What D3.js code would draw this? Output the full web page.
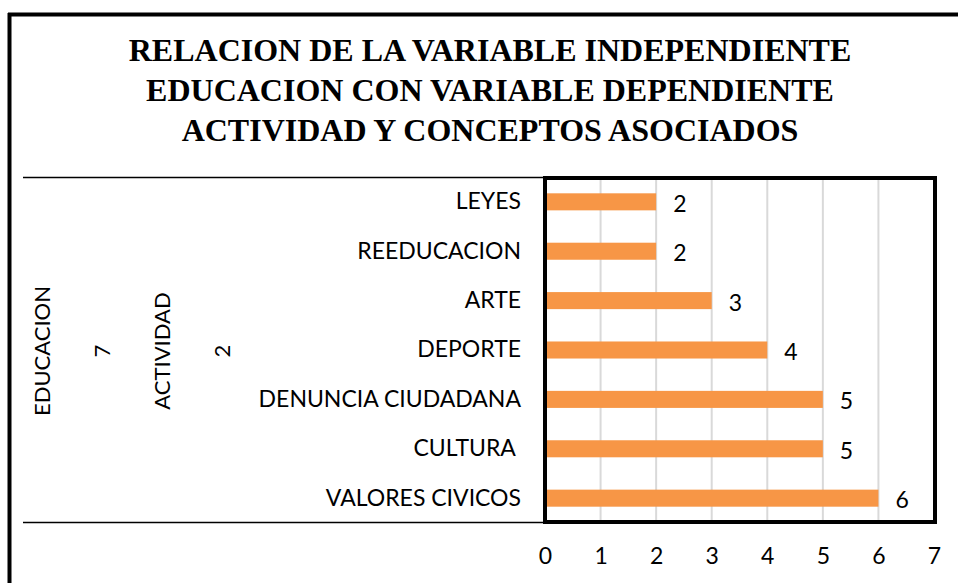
<!DOCTYPE html>
<html>
<head>
<meta charset="utf-8">
<script src="https://cdn.jsdelivr.net/npm/d3@7"></script>
<style>
  body { margin: 0; background: #fff; }
  svg { display: block; }
</style>
</head>
<body>
<script>
// chart data
var categories = ["LEYES", "REEDUCACION", "ARTE", "DEPORTE", "DENUNCIA CIUDADANA", "CULTURA ", "VALORES CIVICOS"];
var values = [2, 2, 3, 4, 5, 5, 6];
var xTicks = [0, 1, 2, 3, 4, 5, 6, 7];
var titleLines = ["RELACION DE LA VARIABLE INDEPENDIENTE", "EDUCACION CON VARIABLE DEPENDIENTE", "ACTIVIDAD Y CONCEPTOS ASOCIADOS"];
var sideLabels = [
    {text: "EDUCACION", x: 42},
    {text: "7", x: 102},
    {text: "ACTIVIDAD", x: 162},
    {text: "2", x: 222}
];

var w = 958;
var h = 583;
var plot = {left: 545, right: 934, top: 178, bottom: 522};
var font = "Lato, 'Open Sans', sans-serif";

var svg = d3.select("body")
            .append("svg")
            .attr("width", w)
            .attr("height", h);

// outer frame (cut off at right and bottom)
svg.append("line")
    .attr("x1", 9.5).attr("y1", 13)
    .attr("x2", 9.5).attr("y2", h)
    .attr("stroke", "#000").attr("stroke-width", 4);
svg.append("line")
    .attr("x1", 8).attr("y1", 14.5)
    .attr("x2", w).attr("y2", 14.5)
    .attr("stroke", "#000").attr("stroke-width", 4);

// title
svg.append("text")
    .attr("x", 490)
    .attr("y", 61)
    .attr("text-anchor", "middle")
    .style("font-family", "'Liberation Serif', 'Times New Roman', serif")
    .style("font-weight", "bold")
    .style("font-size", "32px")
    .selectAll("tspan")
    .data(titleLines)
    .enter()
    .append("tspan")
    .attr("x", 490)
    .attr("dy", function(d, i) { return i === 0 ? 0 : 40; })
    .text(function(d) { return d; });

// table lines on the left
[plot.top - 0.5, plot.bottom + 0.5].forEach(function(y) {
    svg.append("line")
        .attr("x1", 23).attr("x2", plot.left)
        .attr("y1", y).attr("y2", y)
        .attr("stroke", "#000").attr("stroke-width", 1.5);
});

// rotated labels
svg.selectAll("text.side")
    .data(sideLabels)
    .enter()
    .append("text")
    .attr("class", "side")
    .attr("transform", function(d) { return "translate(" + (d.x + 8) + ",351) rotate(-90)"; })
    .attr("text-anchor", "middle")
    .style("font-family", font)
    .style("font-size", "22px")
    .text(function(d) { return d.text; });

var xScale = d3.scaleLinear()
                .domain([0, 7])
                .range([plot.left, plot.right]);

var yScale = d3.scaleBand()
                .domain(categories)
                .range([plot.top, plot.bottom])
                .paddingInner(0.655)
                .paddingOuter(0.31);

// gridlines
svg.append("g")
    .selectAll("line")
    .data(xTicks.filter(function(d) { return d > 0 && d < 7; }))
    .enter()
    .append("line")
    .attr("x1", function(d) { return xScale(d); })
    .attr("x2", function(d) { return xScale(d); })
    .attr("y1", plot.top)
    .attr("y2", plot.bottom)
    .attr("stroke", "#d9d9d9")
    .attr("stroke-width", 2);

// bars
svg.selectAll("rect.bar")
    .data(values)
    .enter()
    .append("rect")
    .attr("class", "bar")
    .attr("x", xScale(0))
    .attr("y", function(d, i) { return yScale(categories[i]); })
    .attr("width", function(d) { return xScale(d) - xScale(0); })
    .attr("height", yScale.bandwidth())
    .attr("fill", "#f79646");

// value labels
svg.selectAll("text.val")
    .data(values)
    .enter()
    .append("text")
    .attr("class", "val")
    .attr("x", function(d) { return xScale(d) + 17; })
    .attr("y", function(d, i) { return yScale(categories[i]) + yScale.bandwidth() / 2 + 10; })
    .style("font-family", font)
    .style("font-size", "23px")
    .text(function(d) { return d; });

// plot box
svg.append("rect")
    .attr("x", plot.left)
    .attr("y", plot.top)
    .attr("width", plot.right - plot.left + 1)
    .attr("height", plot.bottom - plot.top)
    .attr("fill", "none")
    .attr("stroke", "#000")
    .attr("stroke-width", 4);

// axes
var xAxis = d3.axisBottom(xScale).tickValues(xTicks).tickFormat(d3.format("d")).tickSize(0).tickPadding(26);
var yAxis = d3.axisLeft(yScale).tickSize(0).tickPadding(24);

var gx = svg.append("g")
    .attr("transform", "translate(0," + plot.bottom + ")")
    .call(xAxis);
var gy = svg.append("g")
    .attr("transform", "translate(" + plot.left + ",0)")
    .call(yAxis);

[gx, gy].forEach(function(g) {
    g.select(".domain").remove();
    g.selectAll("text")
        .attr("fill", "#000")
        .style("font-family", font)
        .style("font-size", "23px")
        .style("white-space", "pre");
});
</script>
</body>
</html>
